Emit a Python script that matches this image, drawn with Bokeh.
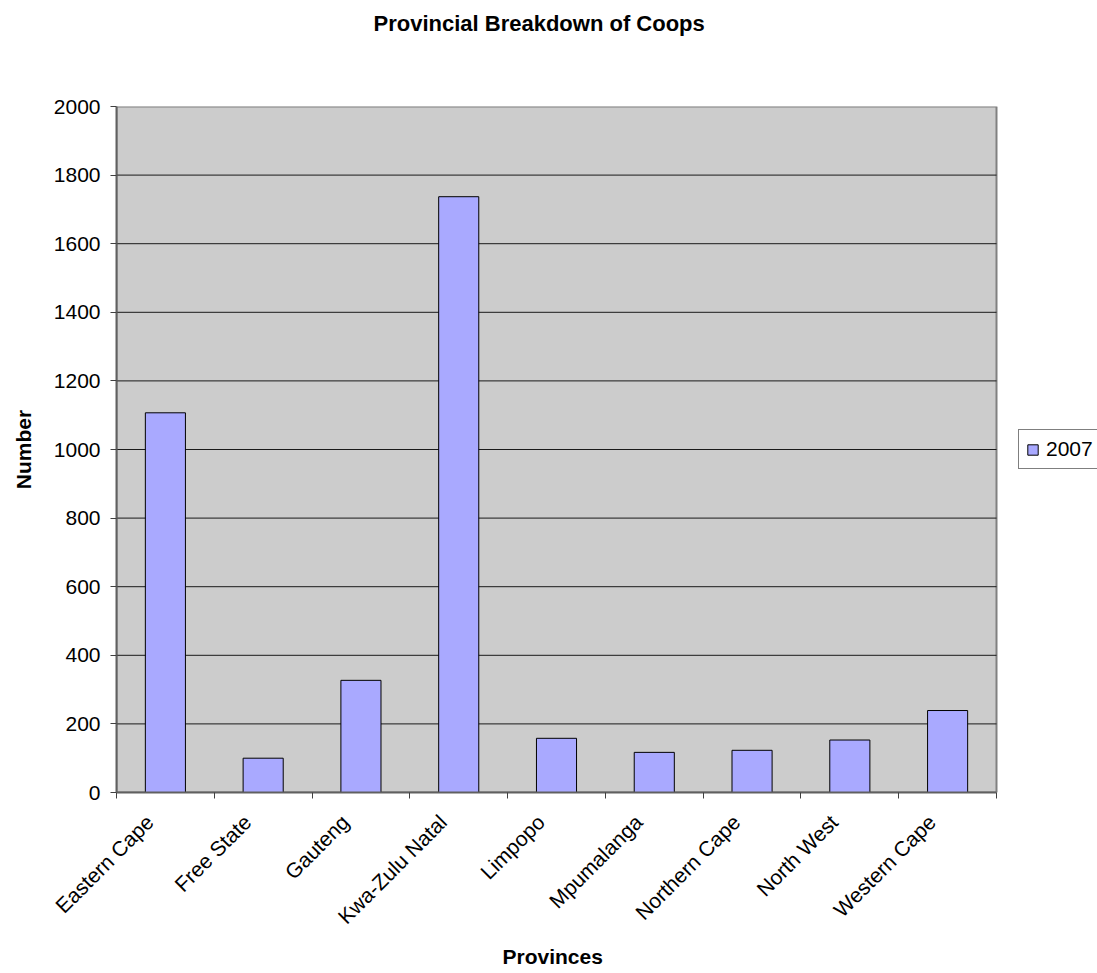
import numpy as np
from math import pi
from bokeh.plotting import figure
from bokeh.models import Range1d, FixedTicker, Legend, LegendItem, Title, ColumnDataSource
from bokeh.embed import file_html
from bokeh.resources import INLINE

categories = ["Eastern Cape", "Free State", "Gauteng", "Kwa-Zulu Natal", "Limpopo",
              "Mpumalanga", "Northern Cape", "North West", "Western Cape"]
values_2007 = [1107, 100, 327, 1737, 158, 117, 123, 153, 239]
series_name = "2007"
y_ticks = [0, 200, 400, 600, 800, 1000, 1200, 1400, 1600, 1800, 2000]

FONT = "Liberation Sans"
FS = "21px"

n = len(categories)
centers = np.arange(n) + 0.5
bounds = list(np.arange(n + 1).astype(float))
label_pos = list(centers - 0.16)

# frame spans the plot area plus the legend zone on the right
PLOT_W = 880
FRAME_W = 1097 - 116
x_end = n * FRAME_W / PLOT_W

p = figure(width=1097, height=973, output_backend="svg", toolbar_location=None,
           x_range=Range1d(0, x_end), y_range=Range1d(y_ticks[0], y_ticks[-1]),
           min_border_left=116, min_border_right=0, min_border_top=106, min_border_bottom=181)
p.title.text = ""
spacer = Title(text=" ", text_font_size="10px", standoff=52)
p.add_layout(spacer, "above")
t = Title(text="Provincial Breakdown of Coops", align="left", offset=257, text_font=FONT,
          text_font_size="22px", text_font_style="bold", text_color="black", standoff=12)
p.add_layout(t, "above")

xt = Title(text="Provinces", align="left", offset=386, text_font=FONT,
           text_font_size=FS, text_font_style="bold", text_color="black", standoff=6)
p.add_layout(xt, "below")

p.background_fill_color = "white"
p.border_fill_color = "white"
p.outline_line_color = None

# plot area
p.quad(left=[0], right=[n], bottom=[y_ticks[0]], top=[y_ticks[-1]],
       fill_color="#CCCCCC", line_color="#808080", line_width=2, level="image")
# gridlines
inner = y_ticks[1:-1]
p.segment(x0=[0] * len(inner), x1=[n] * len(inner), y0=inner, y1=inner,
          line_color="#1a1a1a", line_width=1, level="underlay")

src = ColumnDataSource(dict(x=list(centers), top=values_2007, cat=categories))
r = p.vbar(x="x", top="top", width=0.41, source=src, fill_color="#A9A9FF",
           line_color="black", line_width=1)

# x axis: labels at centers, ticks at boundaries (minor ticks)
p.xaxis.bounds = (0, n)
p.xaxis.ticker = FixedTicker(ticks=label_pos, minor_ticks=bounds)
p.xaxis.major_label_overrides = {float(c): lab for c, lab in zip(label_pos, categories)}
p.xaxis.major_tick_out = 0
p.xaxis.major_tick_in = 0
p.xaxis.minor_tick_out = 6
p.xaxis.minor_tick_in = 0
p.xaxis.minor_tick_line_color = "#404040"
p.xaxis.major_label_orientation = pi / 4
p.xaxis.major_label_text_font = FONT
p.xaxis.major_label_text_font_size = FS
p.xaxis.major_label_text_color = "black"
p.xaxis.major_label_standoff = 20
p.xaxis.axis_line_color = "#606060"
p.xaxis.axis_line_width = 2

p.yaxis.ticker = FixedTicker(ticks=y_ticks)
p.yaxis.major_tick_out = 6
p.yaxis.major_tick_in = 0
p.yaxis.minor_tick_out = 0
p.yaxis.minor_tick_in = 0
p.yaxis.major_tick_line_color = "#404040"
p.yaxis.axis_line_color = "#606060"
p.yaxis.axis_line_width = 2
p.yaxis.major_label_text_font = FONT
p.yaxis.major_label_text_font_size = FS
p.yaxis.major_label_text_color = "black"
p.yaxis.major_label_standoff = 10
p.yaxis.axis_label = "Number"
p.yaxis.axis_label_text_font = FONT
p.yaxis.axis_label_text_font_size = FS
p.yaxis.axis_label_text_font_style = "bold"
p.yaxis.axis_label_text_color = "black"
p.yaxis.axis_label_standoff = 16

p.xgrid.visible = False
p.ygrid.visible = False

legend = Legend(items=[LegendItem(label=series_name, renderers=[r])],
                location=(902, 323), orientation="vertical",
                border_line_color="black", border_line_width=1,
                background_fill_color="white", background_fill_alpha=1,
                label_text_font=FONT, label_text_font_size=FS, label_text_color="black",
                glyph_width=13, glyph_height=13, label_standoff=7,
                padding=7, margin=0, spacing=0)
p.add_layout(legend, "center")

open("out.html", "w").write(file_html(p, INLINE))
